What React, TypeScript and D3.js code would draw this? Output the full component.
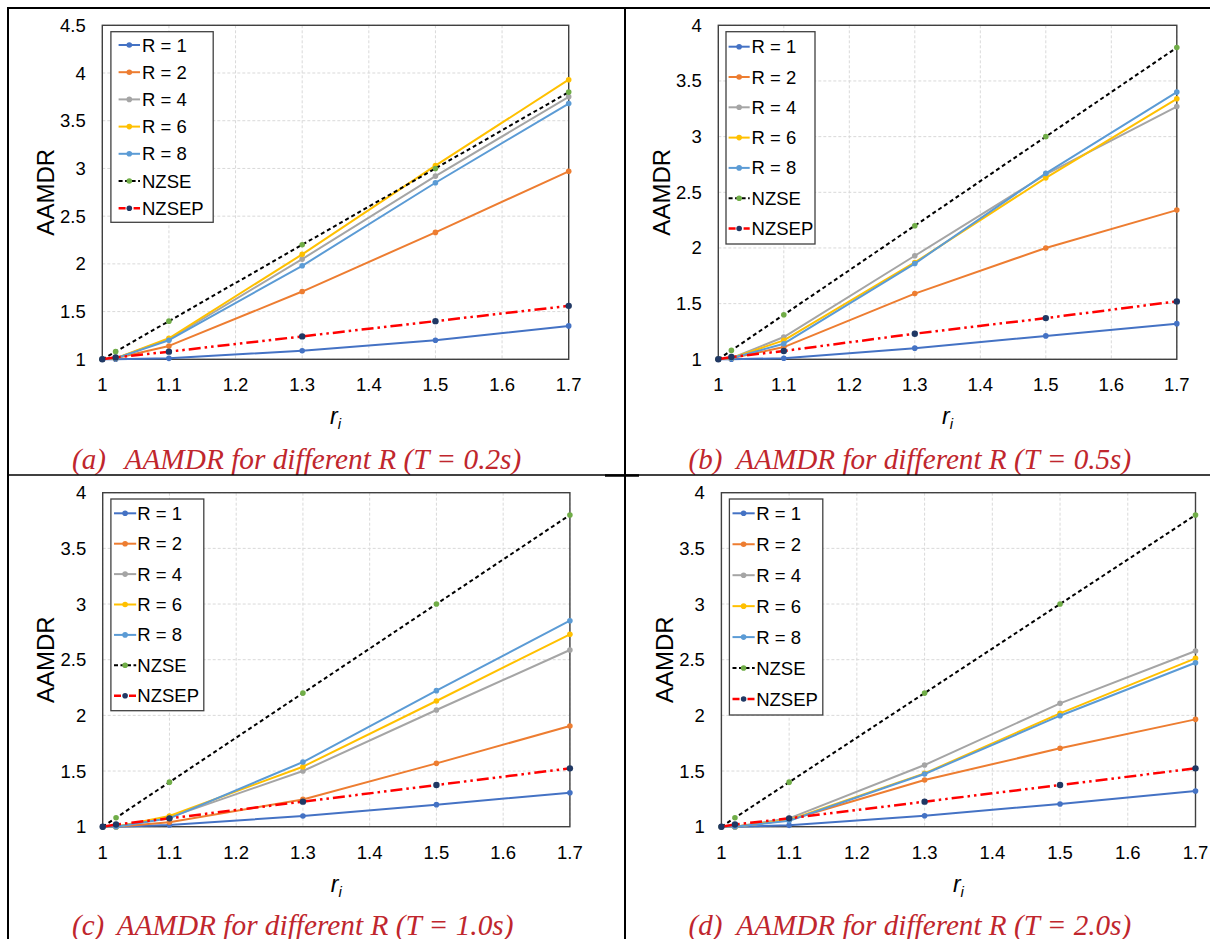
import React from 'react';
import * as d3 from 'd3';

// ---------- data ----------
const X_VALUES = [1, 1.02, 1.1, 1.3, 1.5, 1.7];
const X_TICKS = [1, 1.1, 1.2, 1.3, 1.4, 1.5, 1.6, 1.7];
const Y_TICKS_A = [1, 1.5, 2, 2.5, 3, 3.5, 4, 4.5];
const Y_TICKS_BCD = [1, 1.5, 2, 2.5, 3, 3.5, 4];
const SERIES_NAMES = ['R = 1', 'R = 2', 'R = 4', 'R = 6', 'R = 8', 'NZSE', 'NZSEP'];
const PANEL_LABELS = ['(a)', '(b)', '(c)', '(d)'];
const PANEL_TITLES = [
  'AAMDR for different R (T = 0.2s)',
  'AAMDR for different R (T = 0.5s)',
  'AAMDR for different R (T = 1.0s)',
  'AAMDR for different R (T = 2.0s)',
];
const Y_LABEL = 'AAMDR';

const NZSE = [1, 1.08, 1.4, 2.2, 3.0, 3.8];

const A_R1 = [1, 1.0, 1.01, 1.09, 1.2, 1.35];
const A_R2 = [1, 1.01, 1.14, 1.71, 2.33, 2.97];
const A_R4 = [1, 1.01, 1.21, 2.05, 2.92, 3.75];
const A_R6 = [1, 1.01, 1.22, 2.1, 3.03, 3.93];
const A_R8 = [1, 1.01, 1.2, 1.98, 2.85, 3.68];
const A_NZSEP = [1, 1.02, 1.08, 1.24, 1.4, 1.56];

const B_R1 = [1, 1.0, 1.01, 1.1, 1.21, 1.32];
const B_R2 = [1, 1.01, 1.11, 1.59, 2.0, 2.34];
const B_R4 = [1, 1.01, 1.2, 1.93, 2.66, 3.27];
const B_R6 = [1, 1.01, 1.17, 1.87, 2.63, 3.34];
const B_R8 = [1, 1.01, 1.14, 1.86, 2.67, 3.4];
const B_NZSEP = [1, 1.02, 1.075, 1.23, 1.37, 1.52];

const C_R1 = [1, 1.0, 1.015, 1.096, 1.198, 1.305];
const C_R2 = [1, 1.0, 1.04, 1.245, 1.569, 1.904];
const C_R4 = [1, 1.0, 1.084, 1.5, 2.048, 2.587];
const C_R6 = [1, 1.0, 1.096, 1.539, 2.129, 2.728];
const C_R8 = [1, 1.0, 1.075, 1.581, 2.222, 2.85];
const C_NZSEP = [1, 1.02, 1.075, 1.225, 1.374, 1.524];

const D_R1 = [1, 1.0, 1.012, 1.099, 1.204, 1.32];
const D_R2 = [1, 1.0, 1.06, 1.419, 1.704, 1.964];
const D_R4 = [1, 1.0, 1.075, 1.554, 2.108, 2.578];
const D_R6 = [1, 1.0, 1.06, 1.479, 2.018, 2.512];
const D_R8 = [1, 1.0, 1.054, 1.473, 1.997, 2.473];
const D_NZSEP = [1, 1.02, 1.075, 1.225, 1.374, 1.524];

// ---------- styles ----------
const SERIES_STYLES = [
  { stroke: '#4472C4', marker: '#4472C4', dash: null, width: 2 },
  { stroke: '#ED7D31', marker: '#ED7D31', dash: null, width: 2 },
  { stroke: '#A5A5A5', marker: '#A5A5A5', dash: null, width: 2 },
  { stroke: '#FFC000', marker: '#FFC000', dash: null, width: 2 },
  { stroke: '#5B9BD5', marker: '#5B9BD5', dash: null, width: 2 },
  { stroke: '#000000', marker: '#70AD47', dash: '4,3', width: 2 },
  { stroke: '#FF0000', marker: '#203864', dash: '12,4,2.5,4,2.5,4', width: 2.5 },
];

const SANS = '"Liberation Sans", Arial, sans-serif';
const SERIF = '"Liberation Serif", "Times New Roman", serif';
const CAPTION_COLOR = '#C0262D';

const PANELS = [
  {
    series: [A_R1, A_R2, A_R4, A_R6, A_R8, NZSE, A_NZSEP],
    yTicks: Y_TICKS_A,
    plot: { l: 102.3, r: 568.7, t: 25.3, b: 359.3 },
    legend: { x: 110.9, y: 31.7, w: 102.3, h: 190.6, sx: 118.6, sw: 21.4, tx: 142, fy: 45, step: 27.2 },
    cap: { lx: 72, tx: 124.5, te: 521.3, base: 469 },
  },
  {
    series: [B_R1, B_R2, B_R4, B_R6, B_R8, NZSE, B_NZSEP],
    yTicks: Y_TICKS_BCD,
    plot: { l: 718.3, r: 1176.8, t: 25.3, b: 359.3 },
    legend: { x: 726, y: 31.7, w: 89, h: 212.3, sx: 728.6, sw: 21.1, tx: 751.6, fy: 46.7, step: 30.3 },
    cap: { lx: 688.5, tx: 736.3, te: 1131.2, base: 469 },
  },
  {
    series: [C_R1, C_R2, C_R4, C_R6, C_R8, NZSE, C_NZSEP],
    yTicks: Y_TICKS_BCD,
    plot: { l: 102.7, r: 569.9, t: 492.7, b: 826.7 },
    legend: { x: 110.9, y: 499, w: 92.9, h: 211.7, sx: 114, sw: 22.2, tx: 137.3, fy: 513.3, step: 30.4 },
    cap: { lx: 72, tx: 116.7, te: 513.5, base: 935 },
  },
  {
    series: [D_R1, D_R2, D_R4, D_R6, D_R8, NZSE, D_NZSEP],
    yTicks: Y_TICKS_BCD,
    plot: { l: 721.4, r: 1195.5, t: 492.7, b: 826.7 },
    legend: { x: 729.4, y: 499, w: 93.4, h: 216, sx: 732.5, sw: 22.2, tx: 756.2, fy: 513.3, step: 30.95 },
    cap: { lx: 688.5, tx: 736.3, te: 1131.2, base: 935 },
  },
];

function Panel({ cfg, idx }: { cfg: any; idx: number }) {
  const { plot, legend, cap, series, yTicks } = cfg;
  const x = d3.scaleLinear().domain([1, 1.7]).range([plot.l, plot.r]);
  const y = d3
    .scaleLinear()
    .domain([1, yTicks[yTicks.length - 1]])
    .range([plot.b, plot.t]);
  const line = d3
    .line<number>()
    .x((_, i) => x(X_VALUES[i]))
    .y((d) => y(d));
  const fmt = (v: number) => d3.format('~g')(v);
  return (
    <g>
      {/* grid */}
      {X_TICKS.map((t) => (
        <line key={'gx' + t} x1={x(t)} x2={x(t)} y1={plot.t} y2={plot.b} stroke="#D9D9D9" strokeWidth={1} strokeDasharray="3,2" />
      ))}
      {yTicks.map((t: number) => (
        <line key={'gy' + t} x1={plot.l} x2={plot.r} y1={y(t)} y2={y(t)} stroke="#D9D9D9" strokeWidth={1} strokeDasharray="3,2" />
      ))}
      <rect x={plot.l} y={plot.t} width={plot.r - plot.l} height={plot.b - plot.t} fill="none" stroke="#404040" strokeWidth={1.4} />
      {/* tick labels */}
      {yTicks.map((t: number) => (
        <text key={'ty' + t} x={plot.l - 16.5} y={y(t)} textAnchor="end" dominantBaseline="central" fontFamily={SANS} fontSize={18.5} fill="#000">
          {fmt(t)}
        </text>
      ))}
      {X_TICKS.map((t) => (
        <text key={'tx' + t} x={x(t)} y={plot.b + 32} textAnchor="middle" fontFamily={SANS} fontSize={18.5} fill="#000">
          {fmt(t)}
        </text>
      ))}
      {/* axis titles */}
      <text
        transform={`translate(${plot.l - 57},${(plot.t + plot.b) / 2}) rotate(-90)`}
        textAnchor="middle"
        dominantBaseline="central"
        fontFamily={SANS}
        fontSize={24}
        fill="#000"
      >
        {Y_LABEL}
      </text>
      <text x={(plot.l + plot.r) / 2} y={plot.b + 65} textAnchor="middle" fontFamily={SANS} fontSize={23} fontStyle="italic" fill="#000">
        r<tspan fontSize={15} dy={5}>i</tspan>
      </text>
      {/* series */}
      {series.map((vals: number[], si: number) => {
        const st = SERIES_STYLES[si];
        return (
          <g key={'s' + si}>
            <path d={line(vals) || ''} fill="none" stroke={st.stroke} strokeWidth={st.width} strokeDasharray={st.dash || undefined} strokeLinejoin="round" />
            {vals.map((v, i) => (
              <circle key={i} cx={x(X_VALUES[i])} cy={y(v)} r={si === 6 ? 3.2 : 2.8} fill={st.marker} />
            ))}
          </g>
        );
      })}
      {/* legend */}
      <rect x={legend.x} y={legend.y} width={legend.w} height={legend.h} fill="#fff" stroke="#404040" strokeWidth={1.3} />
      {SERIES_NAMES.map((name, si) => {
        const st = SERIES_STYLES[si];
        const ly = legend.fy + si * legend.step;
        return (
          <g key={'l' + si}>
            <line x1={legend.sx} x2={legend.sx + legend.sw} y1={ly} y2={ly} stroke={st.stroke} strokeWidth={st.width} strokeDasharray={si === 5 ? '4,2.5' : si === 6 ? '7,3,2,3' : undefined} />
            <circle cx={legend.sx + legend.sw / 2} cy={ly} r={2.8} fill={st.marker} />
            <text x={legend.tx} y={ly} dominantBaseline="central" fontFamily={SANS} fontSize={18.5} fill="#000">
              {name}
            </text>
          </g>
        );
      })}
      {/* caption */}
      <text x={cap.lx} y={cap.base} fontFamily={SERIF} fontStyle="italic" fontSize={29} fill={CAPTION_COLOR}>
        {PANEL_LABELS[idx]}
      </text>
      <text x={cap.tx} y={cap.base} fontFamily={SERIF} fontStyle="italic" fontSize={29} fill={CAPTION_COLOR} textLength={cap.te - cap.tx} lengthAdjust="spacingAndGlyphs">
        {PANEL_TITLES[idx]}
      </text>
    </g>
  );
}

export default function App() {
  return (
    <svg width={1210} height={939} style={{ position: 'absolute', left: 0, top: 0, background: '#fff' }}>
      <rect x={0} y={0} width={1210} height={939} fill="#fff" />
      {PANELS.map((p, i) => (
        <Panel key={i} cfg={p} idx={i} />
      ))}
      {/* table frame */}
      <line x1={7} x2={1210} y1={8} y2={8} stroke="#000" strokeWidth={2} />
      <line x1={8} x2={8} y1={7} y2={939} stroke="#000" strokeWidth={2} />
      <line x1={625} x2={625} y1={7} y2={939} stroke="#000" strokeWidth={2} />
      <line x1={7} x2={1210} y1={475} y2={475} stroke="#000" strokeWidth={1.5} />
      <line x1={605} x2={639} y1={475.5} y2={475.5} stroke="#000" strokeWidth={2.5} />
    </svg>
  );
}
